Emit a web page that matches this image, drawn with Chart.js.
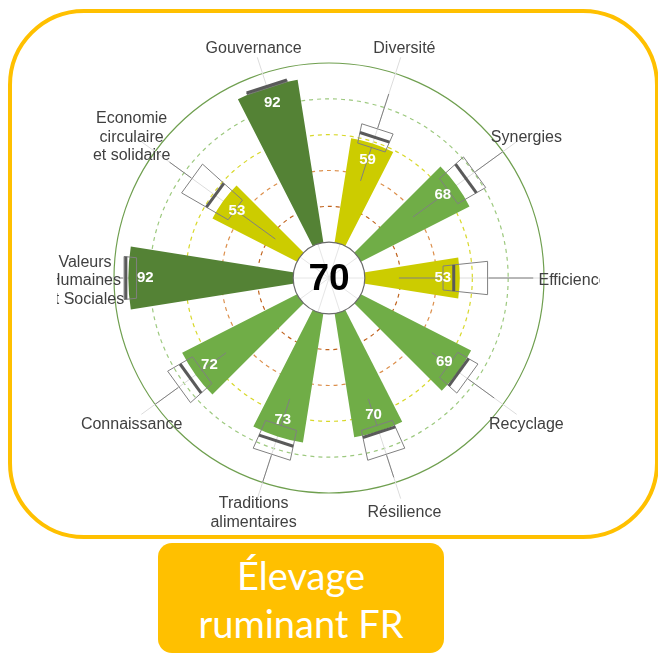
<!DOCTYPE html>
<html>
<head>
  <title>Élevage ruminant FR</title>
  <script src="https://cdn.jsdelivr.net/npm/chart.js"></script>
  <style>
    body { margin: 0; background: #fff; }
    #frame { position: absolute; left: 8px; top: 9px; width: 643px; height: 522px; border: 4px solid #FFC000; border-radius: 76px; }
    #title { position: absolute; left: 158px; top: 543px; width: 286px; height: 110px; background: #FFC000; border-radius: 14px;
             color: #fff; font: 38px Lato, "Open Sans", sans-serif; line-height: 48px; text-align: center;
             display: flex; flex-direction: column; justify-content: center; padding-top: 2px; box-sizing: border-box; }
    #radar { position: absolute; left: 0; top: 0; }
  </style>
</head>
<body>
  <div id="frame"></div>
  <div id="title"><div>Élevage</div><div>ruminant FR</div></div>
  <canvas id="radar" width="658" height="654"></canvas>
  <script>
    // categories clockwise from Diversité (top right)
    const categories = ['Diversité', 'Synergies', 'Efficience', 'Recyclage', 'Résilience',
      ['Traditions', 'alimentaires'], 'Connaissance', ['Valeurs', 'Humaines', 'et Sociales'],
      ['Economie', 'circulaire', 'et solidaire'], 'Gouvernance'];
    const scores = [59, 68, 53, 69, 70, 73, 72, 92, 53, 92];
    const overallScore = 70;

    // distribution of the reference group (box + whiskers)
    const whiskerLow  = [37, 38, 19, 51, 51, 51, 51, 88, 17, 92];
    const boxLow      = [57, 63, 44, 63, 67, 67, 68, 88, 45, 92];
    const medians     = [63, 75, 50, 70, 71, 76, 76, 94, 59, 93];
    const boxHigh     = [68, 81, 69, 76, 84, 84, 84, 95, 75, 93];
    const whiskerHigh = [88, 100, 94, 94, 97, 100, 100, 97, 90, 93];

    const colorFor = v => v >= 80 ? '#548235' : v >= 60 ? '#70AD47' : '#CCCC00';

    // 20 slots: a bar then an empty gap, so every bar covers 18 degrees
    const slotLabels = [], slotValues = [], slotColors = [];
    categories.forEach((c, i) => {
      slotLabels.push([].concat(c).join(' '), '');
      slotValues.push(scores[i], -20);
      slotColors.push(colorFor(scores[i]), 'rgba(0,0,0,0)');
    });

    const gridColors = { 20: '#c0621c', 40: '#dc8f4c', 60: '#d8d82a', 80: '#9dc97f', 100: '#6f9f4f' };
    const FONT = '"Liberation Sans", Arial, sans-serif';

    const rad = d => d * Math.PI / 180;
    function polar(s, k, value, dDeg, extra) {
      const a = s.getIndexAngle(2 * k) + rad(9 + (dDeg || 0)) - Math.PI / 2;
      const r = s.getDistanceFromCenterForValue(value) + (extra || 0);
      return { x: s.xCenter + r * Math.cos(a), y: s.yCenter + r * Math.sin(a) };
    }
    function line(ctx, p, q) { ctx.beginPath(); ctx.moveTo(p.x, p.y); ctx.lineTo(q.x, q.y); ctx.stroke(); }

    const decorations = {
      id: 'decorations',
      beforeDatasetsDraw(chart) {
        const s = chart.scales.r, ctx = chart.ctx;
        ctx.save();
        ctx.strokeStyle = '#dcdcdc';
        ctx.lineWidth = 1;
        categories.forEach((c, k) => line(ctx, { x: s.xCenter, y: s.yCenter }, polar(s, k, 100, 0, 17)));
        ctx.restore();
      },
      afterDatasetsDraw(chart) {
        const s = chart.scales.r, ctx = chart.ctx;
        const r0 = s.getDistanceFromCenterForValue(0);
        ctx.save();
        // centre disc
        ctx.beginPath();
        ctx.arc(s.xCenter, s.yCenter, r0, 0, 2 * Math.PI);
        ctx.fillStyle = '#fff';
        ctx.fill();
        ctx.strokeStyle = '#e6e6e6';
        ctx.lineWidth = 1;
        categories.forEach((c, k) => line(ctx, { x: s.xCenter, y: s.yCenter }, polar(s, k, 0)));
        ctx.beginPath();
        ctx.arc(s.xCenter, s.yCenter, r0, 0, 2 * Math.PI);
        ctx.strokeStyle = '#6b6b6b';
        ctx.lineWidth = 1.2;
        ctx.stroke();
        ctx.fillStyle = '#000';
        ctx.font = 'bold 37px ' + FONT;
        ctx.textAlign = 'center';
        ctx.textBaseline = 'middle';
        ctx.fillText(String(overallScore), s.xCenter, s.yCenter + 2);

        // boxes and whiskers
        categories.forEach((c, k) => {
          ctx.strokeStyle = '#808080';
          ctx.lineWidth = 1;
          if (whiskerLow[k] < boxLow[k]) line(ctx, polar(s, k, whiskerLow[k]), polar(s, k, boxLow[k]));
          if (whiskerHigh[k] > boxHigh[k]) line(ctx, polar(s, k, boxHigh[k]), polar(s, k, whiskerHigh[k]));
          const pts = [polar(s, k, boxLow[k], -6), polar(s, k, boxHigh[k], -6), polar(s, k, boxHigh[k], 6), polar(s, k, boxLow[k], 6)];
          ctx.beginPath();
          pts.forEach((p, i) => i ? ctx.lineTo(p.x, p.y) : ctx.moveTo(p.x, p.y));
          ctx.closePath();
          ctx.stroke();
          ctx.strokeStyle = '#5a5a5a';
          ctx.lineWidth = 3;
          line(ctx, polar(s, k, medians[k], -6), polar(s, k, medians[k], 6));
        });

        // score values inside the bars
        ctx.fillStyle = '#fff';
        ctx.font = 'bold 15px ' + FONT;
        scores.forEach((v, k) => {
          const p = polar(s, k, v, 0, -17);
          ctx.fillText(String(v), p.x, p.y);
        });

        // category labels, clipped like the source picture
        ctx.beginPath();
        ctx.rect(57, 0, 543, 540);
        ctx.clip();
        ctx.fillStyle = '#404040';
        ctx.font = '16px ' + FONT;
        categories.forEach((c, k) => {
          const lines = [].concat(c);
          const p = polar(s, k, 100, 0, 29);
          const lh = 18.5;
          lines.forEach((t, i) => ctx.fillText(t, p.x, p.y + 3 + (i - (lines.length - 1) / 2) * lh));
        });
        ctx.restore();
      }
    };

    new Chart(document.getElementById('radar'), {
      type: 'polarArea',
      data: {
        labels: slotLabels,
        datasets: [{ data: slotValues, backgroundColor: slotColors, borderWidth: 0 }]
      },
      options: {
        responsive: false,
        animation: false,
        layout: { padding: { left: 114, right: 114, top: 63, bottom: 161 } },
        plugins: { legend: { display: false }, tooltip: { enabled: false } },
        scales: {
          r: {
            min: -20,
            max: 100,
            startAngle: 9,
            ticks: { display: false, stepSize: 20 },
            angleLines: { display: false },
            pointLabels: { display: false },
            grid: {
              circular: true,
              lineWidth: 1.2,
              color: c => gridColors[c.tick && c.tick.value] || 'rgba(0,0,0,0)'
            },
            border: { dash: c => (c.tick && c.tick.value === 100) ? [] : [4, 4] }
          }
        }
      },
      plugins: [decorations]
    });
  </script>
</body>
</html>
